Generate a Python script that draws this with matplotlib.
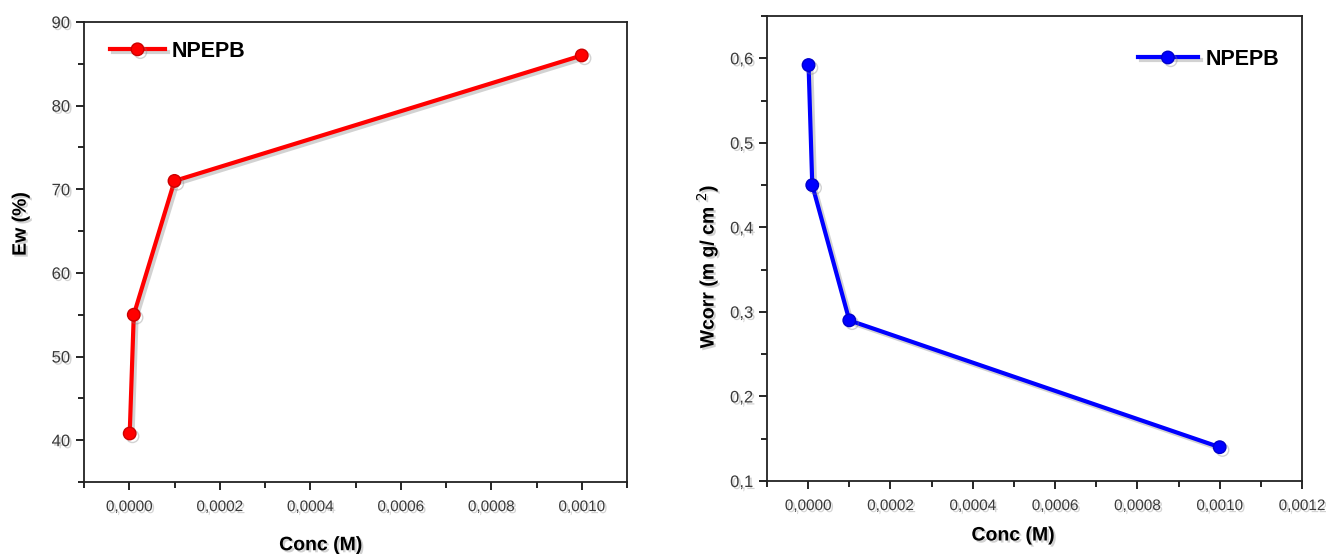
import matplotlib.pyplot as plt
import matplotlib.patheffects as pe
from matplotlib.ticker import FuncFormatter, MultipleLocator

# data
conc = [0.000001, 0.00001, 0.0001, 0.001]
ew = [40.8, 55.0, 71.0, 86.0]
wcorr = [0.592, 0.450, 0.290, 0.140]
legend_label = 'NPEPB'

plt.rcParams['font.family'] = ['Liberation Sans', 'DejaVu Sans']

shadow_line = [pe.SimpleLineShadow(offset=(2, -2), shadow_color='gray', alpha=0.35), pe.Normal()]
shadow_text = [pe.withSimplePatchShadow(offset=(1.5, -1.5), shadow_rgbFace='gray', alpha=0.35)]


def comma(x, pos):
    return ('%.4f' % x).replace('.', ',')


def comma1(x, pos):
    return ('%.1f' % x).replace('.', ',')


def style(ax):
    ax.tick_params(which='both', direction='out', top=False, right=False,
                   labelcolor='#3a3a3a', width=1.2)
    ax.tick_params(axis='x', labelsize=11, pad=7)
    ax.tick_params(axis='y', labelsize=12, pad=4)
    ax.tick_params(which='major', length=6)
    ax.tick_params(which='minor', length=4)
    for s in ax.spines.values():
        s.set_linewidth(1.3)
        s.set_color('#222222')
    for lbl in ax.get_xticklabels() + ax.get_yticklabels():
        lbl.set_path_effects(shadow_text)


fig = plt.figure(figsize=(13.26, 5.54), dpi=100)

# left panel: inhibition efficiency
ax1 = fig.add_axes([84 / 1326, 1 - 482 / 554, (627 - 84) / 1326, (482 - 22) / 554])
ax1.plot(conc, ew, color='red', lw=3, marker='o', ms=9, mfc='red', mec='#cc0000',
         label=legend_label, path_effects=shadow_line)
ax1.set_xlim(-0.0001, 0.0011)
ax1.set_ylim(35, 90)
ax1.xaxis.set_major_locator(MultipleLocator(0.0002))
ax1.xaxis.set_minor_locator(MultipleLocator(0.0001))
ax1.yaxis.set_major_locator(MultipleLocator(10))
ax1.yaxis.set_minor_locator(MultipleLocator(5))
ax1.xaxis.set_major_formatter(FuncFormatter(comma))
style(ax1)
ax1.set_xlabel('Conc (M)', fontsize=14, fontweight='bold')
ax1.set_ylabel('Ew (%)', fontsize=14, fontweight='bold')
ax1.xaxis.set_label_coords(0.436, -0.12)
ax1.yaxis.set_label_coords(-0.1, 0.561)
ax1.xaxis.label.set_path_effects(shadow_text)
ax1.yaxis.label.set_path_effects(shadow_text)
leg1 = ax1.legend(loc='upper left', frameon=False, fontsize=15.5, handlelength=2.55,
                  handletextpad=0.33, borderpad=0, borderaxespad=0,
                  bbox_to_anchor=(0.048, 0.959))
for t in leg1.get_texts():
    t.set_fontweight('bold')

# right panel: corrosion rate
ax2 = fig.add_axes([767 / 1326, 1 - 481 / 554, (1302 - 767) / 1326, (481 - 16) / 554])
ax2.plot(conc, wcorr, color='blue', lw=3, marker='o', ms=9, mfc='blue', mec='#0000cc',
         label=legend_label, path_effects=shadow_line)
ax2.set_xlim(-0.0001, 0.0012)
ax2.set_ylim(0.1, 0.65)
ax2.xaxis.set_major_locator(MultipleLocator(0.0002))
ax2.xaxis.set_minor_locator(MultipleLocator(0.0001))
ax2.yaxis.set_major_locator(MultipleLocator(0.1))
ax2.yaxis.set_minor_locator(MultipleLocator(0.05))
ax2.xaxis.set_major_formatter(FuncFormatter(comma))
ax2.yaxis.set_major_formatter(FuncFormatter(comma1))
style(ax2)
ax2.set_xlabel('Conc (M)', fontsize=14, fontweight='bold')
ax2.set_ylabel(r'Wcorr (m g/ cm $^{2}$)', fontsize=14, fontweight='bold')
ax2.xaxis.set_label_coords(0.46, -0.10)
ax2.yaxis.set_label_coords(-0.088, 0.462)
ax2.xaxis.label.set_path_effects(shadow_text)
ax2.yaxis.label.set_path_effects(shadow_text)
leg2 = ax2.legend(loc='upper left', frameon=False, fontsize=15.5, handlelength=2.8,
                  handletextpad=0.33, borderpad=0, borderaxespad=0,
                  bbox_to_anchor=(0.693, 0.929))
for t in leg2.get_texts():
    t.set_fontweight('bold')

fig.savefig('out.png', dpi=100)
